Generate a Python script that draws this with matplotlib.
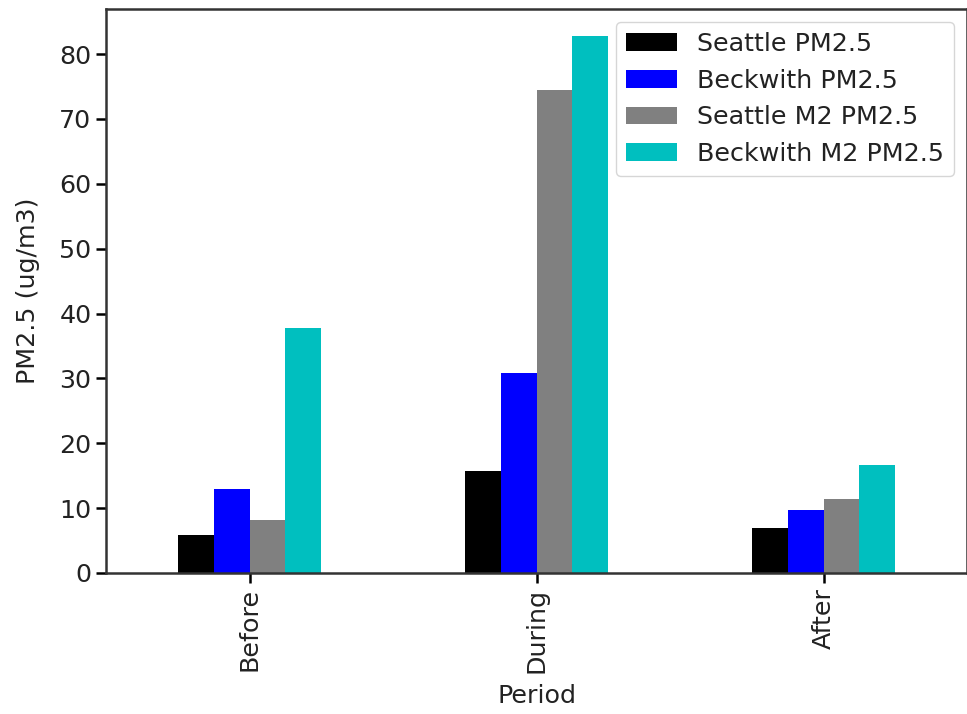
import pandas as pd
import matplotlib
matplotlib.use('Agg')
import matplotlib.pyplot as plt

# PM2.5 averages per period
periods = ['Before', 'During', 'After']
seattle = [5.8, 15.8, 7.0]
beckwith = [13.0, 30.9, 9.7]
seattle_m2 = [8.2, 74.4, 11.4]
beckwith_m2 = [37.7, 82.8, 16.6]

df = pd.DataFrame({
    'Seattle PM2.5': seattle,
    'Beckwith PM2.5': beckwith,
    'Seattle M2 PM2.5': seattle_m2,
    'Beckwith M2 PM2.5': beckwith_m2,
}, index=pd.Index(periods, name='Period'))

plt.rcParams['font.size'] = 18.3
plt.rcParams['axes.linewidth'] = 1.8
plt.rcParams['text.color'] = '#222222'
plt.rcParams['axes.labelcolor'] = '#222222'
plt.rcParams['xtick.labelcolor'] = '#222222'
plt.rcParams['ytick.labelcolor'] = '#222222'
plt.rcParams['axes.edgecolor'] = '#333333'

fig = plt.figure(figsize=(9.67, 7.14), dpi=100)
ax = fig.add_axes([106 / 967, 1 - 573 / 714, 861 / 967, 564 / 714])
df.plot.bar(ax=ax, color=['black', 'blue', 'grey', 'c'])
ax.set_ylabel('PM2.5 (ug/m3)', labelpad=14)
ax.set_xlabel('Period', labelpad=8)
ax.tick_params(width=1.8, length=7)
ax.legend(loc='upper right', fontsize=18.3)

fig.savefig('out.png', dpi=100)
